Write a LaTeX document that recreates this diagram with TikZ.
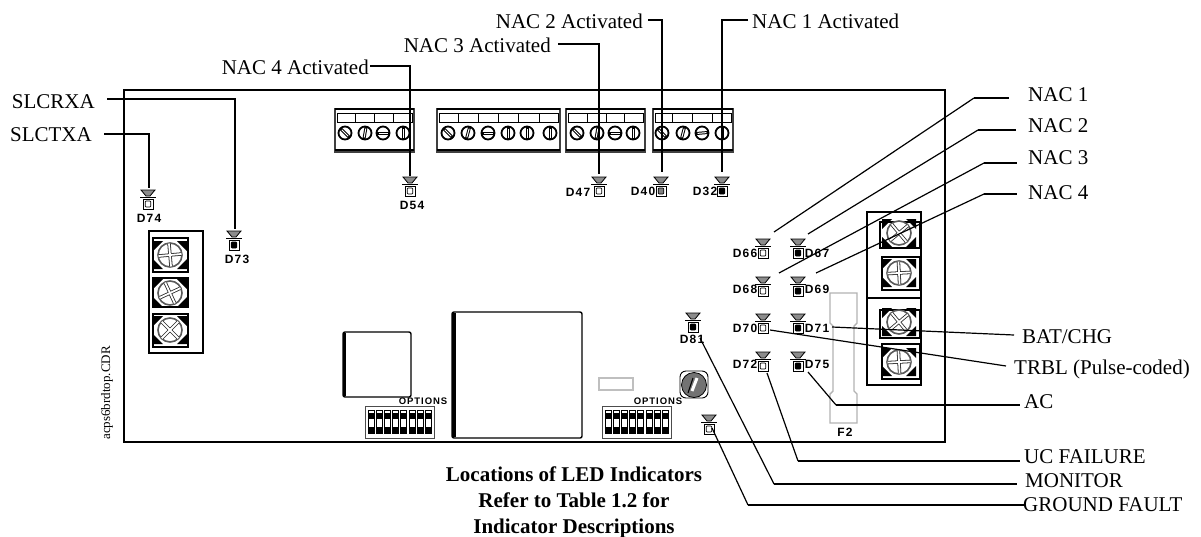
\documentclass[tikz,border=0pt]{standalone}
\usepackage{fontspec}
\setmainfont{Liberation Serif}
\newfontfamily\ledfont[LetterSpace=10]{Liberation Sans}
\tikzset{
    label/.style={anchor=west,inner sep=0pt,font=\fontsize{21}{24}\selectfont},
    ledtag/.style={inner sep=0pt,font=\ledfont\bfseries\fontsize{12}{14}\selectfont},
    lead/.style={line width=1.2pt},
    leadbar/.style={line width=2pt},
    pics/led/.style={code={
        \draw[line width=0.8pt,fill=black!45] (-7,0) -- (7,0) -- (2,6) -- (-2,6) -- cycle;
        \draw[line width=0.9pt] (-8,7) -- (8,7);
        \draw[line width=0.9pt,fill=white] (-5,9) rectangle (5,19);
        \draw[line width=0.7pt,rounded corners=1pt,fill=#1] (-2.8,11) rectangle (2.8,17);
    }},
    pics/smallscrew/.style={code={
        \draw[line width=1.8pt,fill=white] (0,0) circle [radius=6.5];
        \draw[rotate=#1,line width=3pt] (-6,0) -- (6,0);
        \draw[rotate=#1,white,line width=1pt] (-4.5,0) -- (4.5,0);
    }},
    pics/bigscrew/.style={code={
        \fill (-17,-14) -- (-7,-14) -- (-17,-4) -- cycle;
        \fill (17,-14) -- (7,-14) -- (17,-4) -- cycle;
        \fill (-17,14) -- (-7,14) -- (-17,4) -- cycle;
        \fill (17,14) -- (7,14) -- (17,4) -- cycle;
        \draw[line width=1.6pt,black!65,fill=white] (0,0) circle [radius=12];
        \draw[rotate=#1,line width=3.4pt,black!85] (-11,0) -- (11,0);
        \draw[rotate=#1,line width=3.4pt,black!85] (0,-11) -- (0,11);
        \draw[rotate=#1,white,line width=1.8pt] (-11.5,0) -- (11.5,0);
        \draw[rotate=#1,white,line width=1.8pt] (0,-11.5) -- (0,11.5);
    }},
    pics/dipswitch/.style={code={
        \draw[line width=0.7pt,black!70] (0,0) rectangle (69,32);
        \foreach \i in {0,...,7} {
            \draw[line width=0.7pt,fill=white] (3+\i*8.2,4) rectangle (9+\i*8.2,27);
            \fill (3+\i*8.2,7) rectangle (9+\i*8.2,13);
            \fill (3+\i*8.2,21) rectangle (9+\i*8.2,27);
        }
    }}
}
\begin{document}
\begin{tikzpicture}[x=1pt,y=-1pt]
    \useasboundingbox (0,0) rectangle (1201,536);
    %% Board
    \draw[line width=1.4pt] (124,90) rectangle (945,442);
    %% Terminal blocks on top
    \foreach \xa/\xb in {335/414,437/560,566/645,653/733} {
        \draw[line width=1.2pt,black!75] (\xa,109) rectangle (\xb,152);
        \draw[line width=1.4pt] (\xa,109) -- (\xb,109);
        \draw[line width=1.2pt] (\xa,150) -- (\xb,150);
        \draw[line width=0.8pt] (\xa+2,113) rectangle (\xb-2,122);
    }
    \foreach \x in {355,374,393,458,478,498,518,539,587,606,624,672,692,712}
        \draw[line width=1pt] (\x,113) -- (\x,122);
    \foreach \x/\ang in {345/-45,365/80,383/0,403/90,448/-45,468/75,488/0,508/90,527/90,550/90,577/-45,597/80,615/0,633/90,662/-45,683/75,702/5,722/90}
        \pic at (\x,133) {smallscrew=\ang};
    %% Terminal block on the left
    \draw[line width=1.4pt] (149,231) -- (203,231) -- (203,353) -- (149,353) -- cycle;
    \draw[line width=1.4pt,fill=white] (153,238) rectangle (188,272);
    \draw[line width=1.4pt,fill=white] (153,278) rectangle (188,307);
    \draw[line width=1.4pt,fill=white] (153,314) rectangle (188,347);
    \pic at (170,255) {bigscrew=5};
    \pic at (170,293) {bigscrew=25};
    \pic at (170,330) {bigscrew=45};
    %% Terminal block on the right
    \draw[line width=1.6pt] (867,212) rectangle (921,385);
    \draw[line width=1.4pt] (867,298) -- (921,298);
    \draw[line width=1.4pt,fill=white] (880,222) rectangle (920,248);
    \draw[line width=1.4pt,fill=white] (882,257) rectangle (920,290);
    \draw[line width=1.4pt,fill=white] (880,310) rectangle (920,338);
    \draw[line width=1.4pt,fill=white] (882,344) rectangle (920,379);
    \pic at (899,233) {bigscrew=40};
    \pic at (899,273) {bigscrew=3};
    \pic at (899,322) {bigscrew=40};
    \pic at (899,362) {bigscrew=3};
    %% Chips
    \draw[line width=1.4pt,rounded corners=2pt] (343,332) rectangle (411,397);
    \fill (343,333) rectangle (346,396);
    \draw[line width=1.4pt,rounded corners=2pt] (452,312) rectangle (582,438);
    \fill (452,313) rectangle (456,437);
    \draw[line width=1.4pt,black!25] (599,378) rectangle (633,390);
    %% Rotary switch
    \draw[line width=0.9pt,rounded corners=6pt] (680,371) rectangle (708,398);
    \draw[line width=0.8pt,fill=black!55] (694,385) circle [radius=12.5];
    \draw[white,line width=3pt] (692,391) -- (697,378);
    \draw[line width=1pt] (688,393) -- (693,378);
    %% DIP switches
    \pic at (365,406) {dipswitch};
    \pic at (602,406) {dipswitch};
    \node[ledtag,font=\ledfont\bfseries\fontsize{9.5}{10}\selectfont] (optA) at (423,401) {OPTIONS};
    \node[ledtag,font=\ledfont\bfseries\fontsize{9.5}{10}\selectfont] (optB) at (658,401) {OPTIONS};
    %% Fuse
    \draw[line width=1.4pt,black!30] (830,293) -- (857,293) -- (857,323) -- (854,326) -- (854,391) -- (857,394) -- (857,423) -- (830,423) -- (830,394) -- (833,391) -- (833,326) -- (830,323) -- cycle;
    \node[ledtag] (tagFuse) at (845,432) {F2};
    %% LEDs
    \pic at (148,190) {led=white};
    \pic at (234,231) {led=black};
    \pic at (410,177) {led=white};
    \pic at (599,177) {led=white};
    \pic at (661,177) {led=black!50};
    \pic at (722,177) {led=black};
    \pic at (763,239) {led=white};
    \pic at (798,239) {led=black};
    \pic at (763,277) {led=white};
    \pic at (798,277) {led=black};
    \pic at (763,314) {led=white};
    \pic at (798,314) {led=black};
    \pic at (763,352) {led=white};
    \pic at (798,352) {led=black};
    \pic at (693,313) {led=black};
    \pic at (709,415) {led=white};
    %% LED tags
    \node[ledtag] (tagA) at (149,218) {D74};
    \node[ledtag] (tagB) at (237,259) {D73};
    \node[ledtag] (tagC) at (412,205) {D54};
    \node[ledtag] (tagD) at (578,192) {D47};
    \node[ledtag] (tagE) at (643,191) {D40};
    \node[ledtag] (tagF) at (705,191) {D32};
    \node[ledtag] (tagG) at (745,253) {D66};
    \node[ledtag] (tagH) at (817,253) {D67};
    \node[ledtag] (tagI) at (745,289) {D68};
    \node[ledtag] (tagJ) at (817,289) {D69};
    \node[ledtag] (tagK) at (745,328) {D70};
    \node[ledtag] (tagL) at (817,328) {D71};
    \node[ledtag] (tagM) at (745,364) {D72};
    \node[ledtag] (tagN) at (817,364) {D75};
    \node[ledtag] (tagO) at (692,339) {D81};
    %% Labels
    \node[label,anchor=east] (slcRx) at (95,102) {SLCRXA};
    \node[label,anchor=east] (slcTx) at (92,135) {SLCTXA};
    \node[label,anchor=east] (actD) at (369,67) {NAC 4 Activated};
    \node[label,anchor=east] (actC) at (551,45) {NAC 3 Activated};
    \node[label,anchor=east] (actB) at (643,21) {NAC 2 Activated};
    \node[label] (actA) at (752,21) {NAC 1 Activated};
    \node[label] (nacA) at (1028,95) {NAC 1};
    \node[label] (nacB) at (1028,126) {NAC 2};
    \node[label] (nacC) at (1028,158) {NAC 3};
    \node[label] (nacD) at (1028,193) {NAC 4};
    \node[label] (batChg) at (1022,337) {BAT/CHG};
    \node[label] (trbl) at (1014,369) {TRBL (Pulse-coded)};
    \node[label] (acLine) at (1024,402) {AC};
    \node[label] (ucFail) at (1024,457) {UC FAILURE};
    \node[label] (monitor) at (1025,481) {MONITOR};
    \node[label] (gndFault) at (1023,505) {GROUND FAULT};
    \node[font=\bfseries\fontsize{21}{26}\selectfont,align=center,inner sep=0pt] (caption) at (574,502) {Locations of LED Indicators\\Refer to Table 1.2 for\\Indicator Descriptions};
    \node[rotate=90,inner sep=0pt,font=\fontsize{13}{15}\selectfont] (fileName) at (107,393) {acps6brdtop.CDR};
    %% Free ends
    \coordinate (endA) at (149,188);
    \coordinate (endB) at (235,229);
    \coordinate (endC) at (410,176);
    \coordinate (endD) at (599,174);
    \coordinate (endE) at (662,172);
    \coordinate (endF) at (722,172);
    \coordinate (endG) at (774,232);
    \coordinate (endH) at (808,234);
    \coordinate (endI) at (779,273);
    \coordinate (endJ) at (816,273);
    \coordinate (endK) at (832,327);
    \coordinate (endL) at (770,330);
    \coordinate (endM) at (808,372);
    \coordinate (endN) at (767,373);
    \coordinate (endO) at (700,338);
    \coordinate (endP) at (712,428);
    %% Bends
    \coordinate (bendG) at (974,98);
    \coordinate (bendH) at (978,130);
    \coordinate (bendI) at (984,163);
    \coordinate (bendJ) at (984,194);
    \coordinate (bendM) at (836,405);
    \coordinate (bendN) at (798,461);
    \coordinate (bendO) at (774,484);
    \coordinate (bendP) at (748,505);
    %% Leaders
    \draw[leadbar] ([xshift=12pt,yshift=3pt]slcRx.east) -| (endB);
    \draw[leadbar] ([xshift=12pt,yshift=1pt]slcTx.east) -| (endA);
    \draw[leadbar] ([xshift=1pt,yshift=1pt]actD.east) -| (endC);
    \draw[leadbar] ([xshift=7pt,yshift=1pt]actC.east) -| (endD);
    \draw[leadbar] ([xshift=5pt,yshift=1pt]actB.east) -| (endE);
    \draw[leadbar] ([xshift=-4pt,yshift=1pt]actA.west) -| (endF);
    \draw[lead] (endG) -- (bendG);
    \draw[leadbar] (bendG) -- ([xshift=-19pt]nacA.west |- bendG);
    \draw[lead] (endH) -- (bendH);
    \draw[leadbar] (bendH) -- ([xshift=-12pt]nacB.west |- bendH);
    \draw[lead] (endI) -- (bendI);
    \draw[leadbar] (bendI) -- ([xshift=-11pt]nacC.west |- bendI);
    \draw[lead] (endJ) -- (bendJ);
    \draw[leadbar] (bendJ) -- ([xshift=-11pt]nacD.west |- bendJ);
    \draw[lead] (endK) -- ([xshift=-8pt,yshift=2pt]batChg.west);
    \draw[lead] (endL) -- ([xshift=-8pt,yshift=3pt]trbl.west);
    \draw[lead] (endM) -- (bendM);
    \draw[leadbar] (bendM) -- ([xshift=-4pt]acLine.west |- bendM);
    \draw[lead] (endN) -- (bendN);
    \draw[leadbar] (bendN) -- ([xshift=-4pt]ucFail.west |- bendN);
    \draw[lead] (endO) -- (bendO);
    \draw[line width=1.4pt] (bendO) -- ([xshift=-8pt]monitor.west |- bendO);
    \draw[lead] (endP) -- (bendP);
    \draw[leadbar] (bendP) -- ([xshift=1pt]gndFault.west |- bendP);
\end{tikzpicture}
\end{document}
